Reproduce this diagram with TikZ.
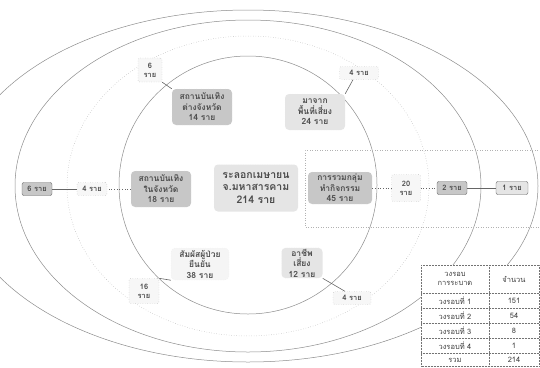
\documentclass[tikz,border=0pt]{standalone}
\usepackage{fontspec}
\newfontfamily\thaifont[Script=Thai]{Loma}
\usetikzlibrary{shapes}

\begin{document}
\begin{tikzpicture}[x=1pt,y=-1pt,
    every node/.style={font=\thaifont\bfseries\fontsize{8.5}{10.5}\selectfont, text=black!70, align=center},
    ring/.style={draw=black!45, line width=0.5pt},
    dotring/.style={draw=black!30, dotted, line width=0.5pt},
    link/.style={draw=black!60, line width=0.6pt},
    dotlink/.style={draw=black!60, dotted, line width=0.7pt},
    darkbox/.style={fill=black!22, draw=black!12, dotted, rounded corners=4pt, minimum width=60pt, minimum height=36pt, inner sep=1pt},
    lightbox/.style={fill=black!10, draw=black!6, dotted, rounded corners=4pt, minimum width=60pt, minimum height=36pt, inner sep=1pt},
    palebox/.style={fill=black!4, draw=black!8, dotted, rounded corners=4pt, minimum width=58pt, minimum height=32pt, inner sep=1pt},
    tagbox/.style={fill=black!3, draw=black!40, dotted, rounded corners=2pt, minimum width=30pt, minimum height=13pt, inner sep=1pt, font=\thaifont\bfseries\fontsize{7.5}{9}\selectfont},
    cell/.style={font=\thaifont\fontsize{7.5}{9}\selectfont, text=black!75, inner sep=0pt},
    tablerule/.style={draw=black!55, densely dotted, line width=0.5pt}]

    \useasboundingbox (0,0) rectangle (540,367);

    %===========================
    % Rings
    %===========================
    \begin{scope}
    \clip (0,0) rectangle (540,367);
    \draw[ring] (248,186) ellipse [x radius=290pt, y radius=176pt];
    \draw[ring] (248,186) ellipse [x radius=233pt, y radius=166pt];
    \draw[dotring] (248,186) ellipse [x radius=181pt, y radius=150pt];
    \draw[ring] (248,185) circle [radius=129pt];
    \draw[dotring] (545,150) -- (305,150) -- (305,227) -- (545,227);
    \end{scope}

    %===========================
    % Round 1
    %===========================
    \draw node (wave) at (256,188) [lightbox, minimum width=84pt, minimum height=47pt, font=\thaifont\bfseries\fontsize{10.5}{12.5}\selectfont]{ระลอกเมษายน\\จ.มหาสารคาม\\214 ราย};

    \draw node (entOut) at (202,107) [darkbox]{สถานบันเทิง\\ต่างจังหวัด\\14 ราย};
    \draw node (riskArea) at (315,112) [lightbox]{มาจาก\\พื้นที่เสี่ยง\\24 ราย};
    \draw node (entIn) at (161,189) [darkbox]{สถานบันเทิง\\ในจังหวัด\\18 ราย};
    \draw node (groupAct) at (340,188) [darkbox, minimum width=64pt, minimum height=32pt]{การรวมกลุ่ม\\ทำกิจกรรม\\45 ราย};
    \draw node (contact) at (200,264) [palebox]{สัมผัสผู้ป่วย\\ยืนยัน\\38 ราย};
    \draw node (job) at (302,263) [lightbox, minimum width=41pt, minimum height=30pt]{อาชีพ\\เสี่ยง\\12 ราย};

    %===========================
    % Round 2
    %===========================
    \draw node (tagTL) at (150,70) [tagbox, minimum width=24pt, minimum height=24pt]{6\\ราย};
    \draw[link] (tagTL.south east) to (entOut.north west);

    \draw node (tagTR) at (359,73) [tagbox, minimum width=39pt]{4 ราย};
    \draw[link] ([xshift=-6pt]tagTR.south) to (riskArea.north east);

    \draw node (tagL2) at (92,189) [tagbox]{4 ราย};
    \draw[dotlink] (entIn.west) to (tagL2.east);

    \draw node (tag20) at (406,188) [tagbox, minimum width=29pt, minimum height=27pt]{20\\ราย};
    \draw[dotlink] (groupAct.east) to (tag20.west);

    \draw node (tag16) at (144,291) [tagbox, minimum width=30pt, minimum height=25pt]{16\\ราย};
    \draw[link] (tag16.north east) to (contact.south west);

    \draw node (tagB) at (352,298) [tagbox, minimum width=38pt]{4 ราย};
    \draw[link] (job.south east) to ([xshift=-7pt]tagB.north);

    %===========================
    % Round 3 and 4
    %===========================
    \draw node (tagL3) at (37,189) [tagbox, fill=black!22, draw=black!60, solid]{6 ราย};
    \draw[link] (tagL2) to (tagL3);

    \draw node (tag2) at (452,188) [tagbox, fill=black!22, draw=black!60, solid]{2 ราย};
    \draw[dotlink] (tag20) to (tag2);

    \draw node (tag1) at (512,188) [tagbox, fill=black!10, draw=black!60, solid, minimum width=32pt]{1 ราย};
    \draw[link] (tag2) to (tag1);

    %===========================
    % Table
    %===========================
    \fill[white] (421,265) rectangle (539.5,366.5);
    \draw[tablerule] (421,265) rectangle (539.5,366.5);
    \draw[tablerule] (489,265) -- (489,366.5);
    \foreach \y in {293,308,323,338,353}
        \draw[tablerule] (421,\y) -- (539.5,\y);

    \node (hRound) at (455,279) [cell]{วงรอบ\\การระบาด};
    \node (hCount) at (514,279) [cell]{จำนวน};
    \node (r1) at (455,300.5) [cell]{วงรอบที่ 1};
    \node (c1) at (514,300.5) [cell]{151};
    \node (r2) at (455,315.5) [cell]{วงรอบที่ 2};
    \node (c2) at (514,315.5) [cell]{54};
    \node (r3) at (455,330.5) [cell]{วงรอบที่ 3};
    \node (c3) at (514,330.5) [cell]{8};
    \node (r4) at (455,345.5) [cell]{วงรอบที่ 4};
    \node (c4) at (514,345.5) [cell]{1};
    \node (rSum) at (455,360) [cell]{รวม};
    \node (cSum) at (514,360) [cell]{214};
\end{tikzpicture}
\end{document}
